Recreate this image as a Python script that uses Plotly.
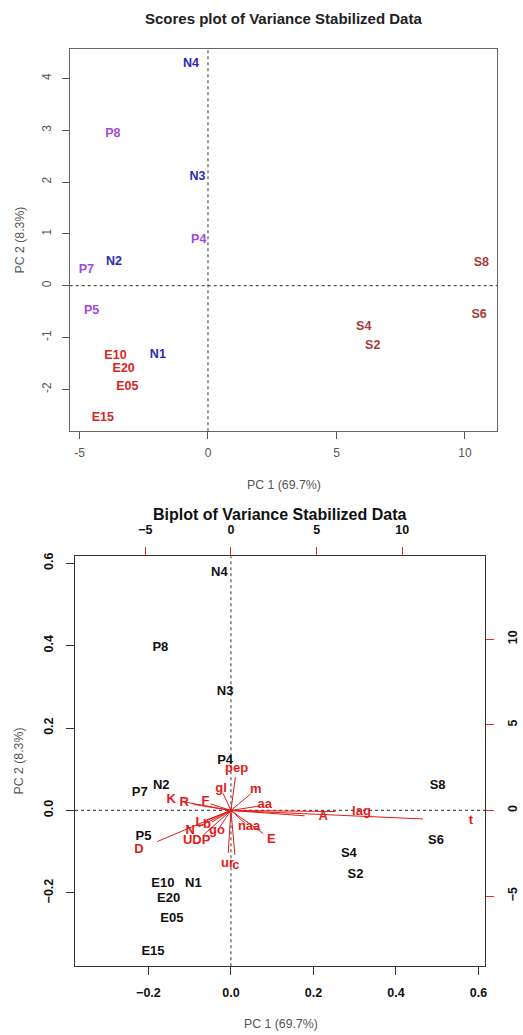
import plotly.graph_objects as go

# ---------------- data ----------------
samples = ["N1", "N2", "N3", "N4", "P4", "P5", "P7", "P8",
           "S2", "S4", "S6", "S8", "E05", "E10", "E15", "E20"]
groups = ["N", "N", "N", "N", "P", "P", "P", "P",
          "S", "S", "S", "S", "E", "E", "E", "E"]
# scores plot (PC1, PC2)
score_pc1 = [-1.95, -3.66, -0.41, -0.66, -0.36, -4.53, -4.73, -3.70,
             6.41, 6.06, 10.55, 10.64, -3.14, -3.60, -4.09, -3.28]
score_pc2 = [-1.33, 0.45, 2.10, 4.27, 0.88, -0.49, 0.31, 2.92,
             -1.17, -0.79, -0.56, 0.44, -1.95, -1.35, -2.56, -1.60]
# biplot scaled scores
bi_pc1 = [-0.091, -0.169, -0.014, -0.028, -0.014, -0.212, -0.221, -0.171,
          0.302, 0.286, 0.497, 0.501, -0.143, -0.165, -0.189, -0.151]
bi_pc2 = [-0.178, 0.061, 0.289, 0.576, 0.121, -0.064, 0.043, 0.394,
          -0.156, -0.106, -0.074, 0.059, -0.263, -0.179, -0.342, -0.213]
# loadings (label positions on the red axes)
variables = ["pep", "gl", "m", "aa", "F", "R", "K", "N", "L", "b", "go",
             "UDP", "D", "naa", "E", "ur", "c", "A", "lag", "t"]
load_pc1 = [0.33, -0.58, 1.45, 1.98, -1.49, -2.72, -3.49, -2.38, -1.84, -1.40,
            -0.81, -2.0, -5.37, 1.06, 2.36, -0.2, 0.29, 5.38, 7.62, 14.01]
load_pc2 = [2.44, 1.26, 1.22, 0.31, 0.48, 0.44, 0.64, -1.20, -0.72, -0.85,
            -1.20, -1.78, -2.27, -0.97, -1.69, -3.1, -3.24, -0.39, -0.08, -0.62]
arrow_frac = 0.8  # R biplot draws arrows to 80% of label position

x1_ticks = [-5, 0, 5, 10]
x1_ticktext = ["-5", "0", "5", "10"]
y1_ticks = [-2, -1, 0, 1, 2, 3, 4]
y1_ticktext = ["-2", "-1", "0", "1", "2", "3", "4"]
bi_ticks = [-0.2, 0.0, 0.2, 0.4, 0.6]
load_ticks = [-5, 0, 5, 10]

group_colors = {"N": "#2a2ab8", "P": "#a24ad6", "S": "#a83a3a", "E": "#d82424"}

FONT = "Liberation Sans, Arial, sans-serif"
W, H = 523, 1035

fig = go.Figure()

# scores plot text labels
fig.add_trace(go.Scatter(
    x=score_pc1, y=score_pc2, mode="text", text=samples,
    textfont=dict(family=FONT, size=12.5, color=[group_colors[g] for g in groups], weight="bold"),
    xaxis="x", yaxis="y", showlegend=False, hoverinfo="text"))

# biplot arrows
ax_x, ax_y = [], []
for a, b in zip(load_pc1, load_pc2):
    ax_x += [0, a * arrow_frac, None]
    ax_y += [0, b * arrow_frac, None]
fig.add_trace(go.Scatter(
    x=ax_x, y=ax_y, mode="lines", line=dict(color="#e41a1a", width=1),
    xaxis="x3", yaxis="y3", showlegend=False, hoverinfo="skip"))
fig.add_trace(go.Scatter(
    x=load_pc1, y=load_pc2, mode="text", text=variables,
    textfont=dict(family=FONT, size=13, color="#e41a1a", weight="bold"),
    xaxis="x3", yaxis="y3", showlegend=False, hoverinfo="text"))

# biplot sample labels
fig.add_trace(go.Scatter(
    x=bi_pc1, y=bi_pc2, mode="text", text=samples,
    textfont=dict(family=FONT, size=13, color="#111111", weight="bold"),
    xaxis="x2", yaxis="y2", showlegend=False, hoverinfo="text"))

# ---------------- layout ----------------
def px_x(p):
    return p / W

def px_y(p):
    return 1 - p / H

top_dom_x = [px_x(70), px_x(499)]
top_dom_y = [px_y(429), px_y(45)]
bi_dom_x = [px_x(75.3), px_x(487.3)]
bi_dom_y = [px_y(966), px_y(554.3)]

bi_range = [-0.378, 0.617]
ratio = 24.07
load_range = [bi_range[0] * ratio, bi_range[1] * ratio]

gray_tick = dict(family=FONT, size=12, color="#555555")
bold_tick = dict(family=FONT, size=12.5, color="#111111", weight="bold")

common = dict(showgrid=False, zeroline=False, ticks="outside")

fig.update_layout(
    width=W, height=H, margin=dict(l=0, r=0, t=0, b=0),
    paper_bgcolor="white", plot_bgcolor="white", showlegend=False,
    xaxis=dict(domain=top_dom_x, range=[-5.38, 11.25], anchor="y",
               tickvals=x1_ticks, ticktext=x1_ticktext, ticklen=7, tickcolor="#555555",
               showline=True, mirror=True, linecolor="#666666", linewidth=1,
               tickfont=gray_tick, ticklabelstandoff=3, **common),
    yaxis=dict(domain=top_dom_y, range=[-2.81, 4.57], anchor="x",
               tickvals=y1_ticks, ticktext=y1_ticktext, ticklen=7, tickcolor="#555555",
               tickangle=-90,
               showline=True, mirror=True, linecolor="#666666", linewidth=1,
               tickfont=gray_tick, ticklabelstandoff=6, **common),
    xaxis2=dict(domain=bi_dom_x, range=bi_range, anchor="y2",
                tickvals=bi_ticks, tickformat=".1f", ticklen=8, tickcolor="#333333",
                showline=True, mirror=True, linecolor="#333333", linewidth=1,
                tickfont=bold_tick, ticklabelstandoff=7, **common),
    yaxis2=dict(domain=bi_dom_y, range=bi_range, anchor="x2",
                tickvals=bi_ticks, tickformat=".1f", ticklen=8, tickcolor="#333333",
                tickangle=-90,
                showline=True, mirror=True, linecolor="#333333", linewidth=1,
                tickfont=bold_tick, ticklabelstandoff=8, **common),
    xaxis3=dict(overlaying="x2", side="top", anchor="y2", range=load_range,
                tickvals=load_ticks, ticklen=8, tickcolor="#e03030",
                showline=False, tickfont=bold_tick, ticklabelstandoff=8,
                showgrid=False, zeroline=False, ticks="outside"),
    yaxis3=dict(overlaying="y2", side="right", anchor="x2", range=load_range,
                tickvals=load_ticks, ticklen=8, tickcolor="#e03030", tickangle=-90,
                showline=False, tickfont=bold_tick, ticklabelstandoff=8,
                showgrid=False, zeroline=False, ticks="outside"),
)

# dashed zero lines
dash = dict(color="#555555", width=1.2, dash="3px,3px")
fig.add_shape(type="line", xref="x", yref="y domain", x0=0, x1=0, y0=0, y1=1, line=dash)
fig.add_shape(type="line", xref="x domain", yref="y", x0=0, x1=1, y0=0, y1=0, line=dash)
fig.add_shape(type="line", xref="x2", yref="y2 domain", x0=0, x1=0, y0=0, y1=1, line=dash, layer="below")
fig.add_shape(type="line", xref="x2 domain", yref="y2", x0=0, x1=1, y0=0, y1=0, line=dash, layer="below")

# titles and axis titles
def ann(text, x, y, size, color, bold=False, angle=0):
    fig.add_annotation(
        text=f"<b>{text}</b>" if bold else text, xref="paper", yref="paper",
        x=px_x(x), y=px_y(y), showarrow=False, textangle=angle,
        xanchor="center", yanchor="middle",
        font=dict(family=FONT, size=size, color=color))

ann("Scores plot of Variance Stabilized Data", 285, 15, 15, "#222222", bold=True)
ann("PC 1 (69.7%)", 285, 482.7, 12.3, "#555555")
ann("PC 2 (8.3%)", 20.5, 237, 12.3, "#555555", angle=-90)
ann("Biplot of Variance Stabilized Data", 281, 512.7, 16, "#111111", bold=True)
ann("PC 1 (69.7%)", 281.7, 1024, 12.3, "#555555")
ann("PC 2 (8.3%)", 19.5, 760, 12.3, "#555555", angle=-90)

fig.write_html("out.html", config={"displayModeBar": False},
               post_script="document.body.style.margin='0';document.body.style.overflow='hidden';")
